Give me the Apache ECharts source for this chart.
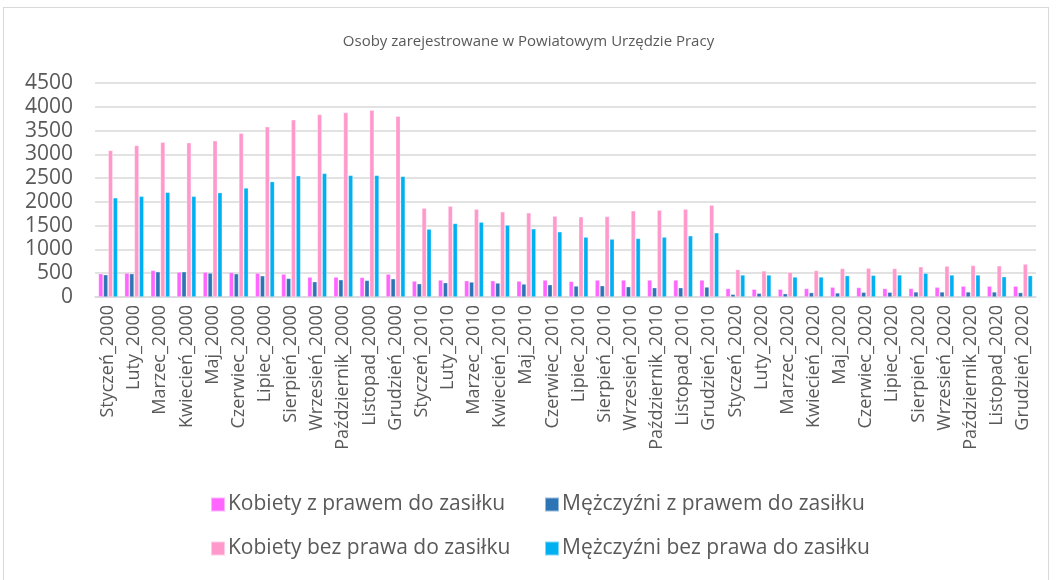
<!DOCTYPE html>
<html>
<head>
<meta charset="utf-8">
<script src="https://cdn.jsdelivr.net/npm/echarts@6/dist/echarts.min.js"></script>
<style>
  html, body { margin: 0; padding: 0; background: #fff; }
  #frame { position: absolute; left: 3px; top: 7px; width: 1046px; height: 580px; border: 1px solid #d9d9d9; box-sizing: border-box; }
  #chart { position: absolute; left: 0; top: 0; width: 1057px; height: 580px; }
</style>
</head>
<body>
<div id="frame"></div>
<div id="chart"></div>
<script>
const months = ['Styczeń', 'Luty', 'Marzec', 'Kwiecień', 'Maj', 'Czerwiec', 'Lipiec',
  'Sierpień', 'Wrzesień', 'Październik', 'Listopad', 'Grudzień'];
const years = ['2000', '2010', '2020'];
const categories = [];
years.forEach(y => months.forEach(m => categories.push(m + '_' + y)));

const kobietyZPrawem = [
  490, 503, 559, 524, 524, 517, 503, 482, 419, 419, 412, 482,
  336, 357, 343, 343, 336, 357, 329, 357, 357, 357, 357, 357,
  179, 164, 164, 179, 207, 200, 179, 179, 207, 228, 228, 228
];
const mezczyzniZPrawem = [
  469, 490, 531, 531, 503, 489, 447, 391, 322, 363, 350, 384,
  280, 301, 315, 294, 273, 259, 231, 238, 217, 196, 196, 210,
  57, 79, 71, 93, 86, 100, 100, 107, 107, 107, 107, 93
];
const kobietyBezPrawa = [
  3083, 3187, 3257, 3243, 3285, 3446, 3579, 3726, 3838, 3880, 3929, 3803,
  1869, 1911, 1848, 1792, 1771, 1701, 1687, 1694, 1813, 1827, 1848, 1932,
  578, 550, 521, 557, 600, 607, 600, 636, 650, 664, 657, 693
];
const mezczyzniBezPrawa = [
  2086, 2118, 2202, 2118, 2195, 2293, 2426, 2552, 2600, 2558, 2558, 2537,
  1428, 1547, 1575, 1512, 1435, 1372, 1260, 1218, 1232, 1260, 1288, 1351,
  464, 464, 421, 421, 450, 457, 464, 500, 464, 464, 428, 450
];

const names = [
  'Kobiety z prawem do zasiłku',
  'Mężczyźni z prawem do zasiłku',
  'Kobiety bez prawa do zasiłku',
  'Mężczyźni bez prawa do zasiłku'
];
const colors = ['#FF66FF', '#2E75B6', '#FF99CC', '#00B0F0'];
const values = [kobietyZPrawem, mezczyzniZPrawem, kobietyBezPrawa, mezczyzniBezPrawa];

const font = '"Open Sans", "Noto Sans", sans-serif';
const legendBase = {
  orient: 'vertical',
  top: 489,
  itemWidth: 14,
  itemHeight: 14,
  itemGap: 23,
  icon: 'rect',
  selectedMode: false,
  textStyle: { fontSize: 21, fontFamily: font, color: '#595959', padding: [0, 0, 0, -2] }
};

const chart = echarts.init(document.getElementById('chart'), null, { renderer: 'canvas' });
chart.setOption({
  animation: false,
  color: colors,
  title: {
    text: 'Osoby zarejestrowane w Powiatowym Urzędzie Pracy',
    left: 'center',
    top: 29,
    textStyle: { fontSize: 15, fontWeight: 'normal', fontFamily: font, color: '#595959' }
  },
  legend: [
    Object.assign({}, legendBase, { left: 205, data: [names[0], names[2]] }),
    Object.assign({}, legendBase, { left: 539, data: [names[1], names[3]] })
  ],
  grid: { left: 95, right: 21, top: 83, bottom: 283 },
  xAxis: {
    type: 'category',
    data: categories,
    axisTick: { show: false },
    axisLine: { lineStyle: { color: '#d9d9d9', width: 1.5 } },
    axisLabel: {
      rotate: 90,
      interval: 0,
      margin: 8,
      fontSize: 18,
      fontFamily: font,
      color: '#595959'
    }
  },
  yAxis: {
    type: 'value',
    min: 0,
    max: 4500,
    interval: 500,
    axisLine: { show: false },
    axisTick: { show: false },
    splitLine: { lineStyle: { color: '#d9d9d9', width: 1.5 } },
    axisLabel: {
      fontSize: 21,
      fontFamily: font,
      color: '#595959',
      margin: 22,
      formatter: v => String(v)
    }
  },
  series: values.map((d, i) => ({
    name: names[i],
    type: 'bar',
    data: d,
    barWidth: 4.6,
    barGap: '6%',
    itemStyle: { color: colors[i], borderColor: 'rgba(255,255,255,0.5)', borderWidth: 0.6 }
  }))
});
</script>
</body>
</html>
